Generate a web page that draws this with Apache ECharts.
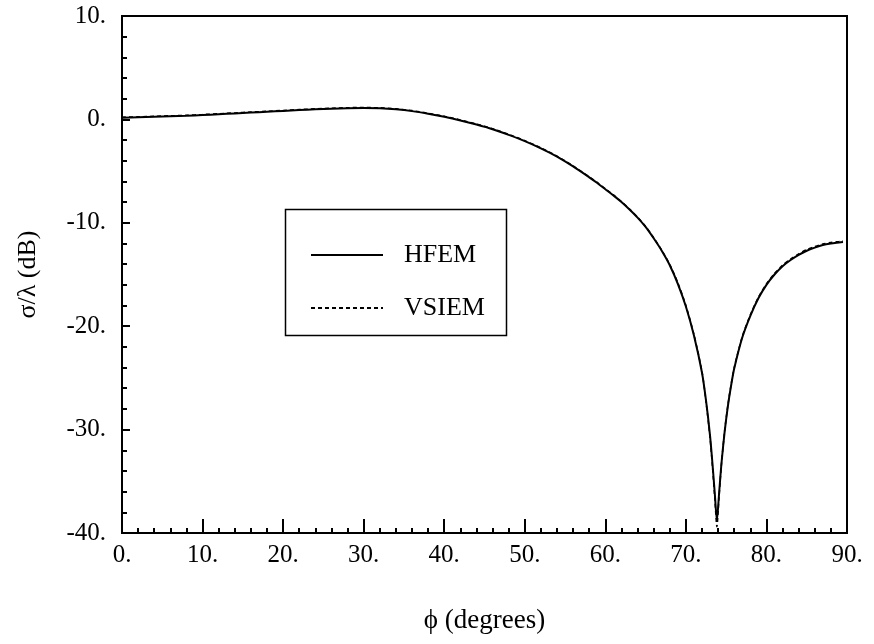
<!DOCTYPE html>
<html>
<head>
<meta charset="utf-8">
<script src="https://cdn.jsdelivr.net/npm/echarts@6/dist/echarts.min.js"></script>
<style>
html,body{margin:0;padding:0;background:#fff;}
#chart{width:874px;height:644px;}
</style>
</head>
<body>
<div id="chart"></div>
<script>
// Angle (degrees) and RCS (dB)
var phiHFEM = [0, 2, 4, 6, 8, 10, 12, 14, 16, 18, 20, 22, 24, 26, 28, 30, 32, 34, 36, 38, 40, 42, 44, 46, 48, 50, 52, 54, 56, 58, 59, 60, 61, 62, 63, 64, 65, 66, 67, 68, 69, 70, 71, 72, 72.5, 73, 73.3, 73.6, 73.85, 74.1, 74.4, 74.8, 75.2, 75.6, 76, 77, 78, 79, 80, 81, 82, 83, 84, 85, 86, 87, 88, 89, 89.5];
var dbHFEM  = [0.15, 0.2, 0.25, 0.3, 0.35, 0.42, 0.5, 0.58, 0.66, 0.74, 0.82, 0.9, 0.97, 1.03, 1.08, 1.1, 1.07, 0.97, 0.8, 0.55, 0.25, -0.1, -0.5, -0.95, -1.5, -2.1, -2.8, -3.6, -4.55, -5.6, -6.15, -6.75, -7.35, -8.0, -8.72, -9.5, -10.4, -11.5, -12.7, -14.1, -15.9, -18.1, -20.9, -24.5, -27.2, -30.6, -33.3, -36.3, -38.8, -36.4, -33.4, -30.3, -27.8, -25.8, -24.1, -21.1, -19.0, -17.3, -16.0, -15.0, -14.2, -13.6, -13.1, -12.7, -12.4, -12.15, -12.0, -11.9, -11.85];
var phiVSIEM = [0, 2, 4, 6, 8, 10, 12, 14, 16, 18, 20, 22, 24, 26, 28, 30, 32, 34, 36, 38, 40, 42, 44, 46, 48, 50, 52, 54, 56, 58, 59, 60, 61, 62, 63, 64, 65, 66, 67, 68, 69, 70, 71, 72, 72.5, 73, 73.3, 73.6, 73.85, 74.1, 74.4, 74.8, 75.2, 75.6, 76, 77, 78, 79, 80, 81, 82, 83, 84, 85, 86, 87, 88, 89, 89.5];
var dbVSIEM  = [0.22, 0.25, 0.3, 0.35, 0.4, 0.47, 0.55, 0.63, 0.71, 0.79, 0.87, 0.95, 1.02, 1.08, 1.13, 1.15, 1.12, 1.02, 0.85, 0.6, 0.3, -0.05, -0.45, -0.9, -1.45, -2.05, -2.75, -3.55, -4.5, -5.55, -6.1, -6.7, -7.3, -7.95, -8.67, -9.45, -10.35, -11.45, -12.65, -14.05, -15.8, -18.0, -20.8, -24.4, -27.3, -30.8, -33.6, -36.8, -39.4, -36.7, -33.5, -30.2, -27.7, -25.7, -24.0, -21.0, -18.9, -17.2, -15.9, -14.9, -14.1, -13.5, -13.0, -12.6, -12.3, -12.05, -11.9, -11.8, -11.75];
var xTicks = {min: 0, max: 90, interval: 10};
var yTicks = {min: -40, max: 10, interval: 10};
var seriesNames = ['HFEM', 'VSIEM'];

function pairs(xs, ys) { return xs.map(function (x, i) { return [x, ys[i]]; }); }

var FONT = 'Liberation Serif';
var chart = echarts.init(document.getElementById('chart'), null, {renderer: 'canvas'});
var fmt = function (v) { return v.toFixed(0) + '.'; };
chart.setOption({
  animation: false,
  backgroundColor: '#fff',
  grid: {left: 122, top: 16, right: 27, bottom: 111, show: true, borderColor: '#000', borderWidth: 2, backgroundColor: 'transparent'},
  legend: {
    left: 305, top: 237, orient: 'vertical',
    itemWidth: 72, itemHeight: 20, itemGap: 27,
    itemStyle: {opacity: 0},
    textStyle: {fontFamily: FONT, fontSize: 26, lineHeight: 20, color: '#000', padding: [0, 0, 0, 16]},
    data: seriesNames
  },
  graphic: [{type: 'rect', left: 283, top: 207, shape: {width: 221, height: 126}, style: {fill: 'none', stroke: '#000', lineWidth: 1.5}}],
  xAxis: {
    type: 'value', min: xTicks.min, max: xTicks.max, interval: xTicks.interval,
    name: 'ϕ (degrees)', nameLocation: 'middle', nameGap: 74,
    nameTextStyle: {fontFamily: FONT, fontSize: 27, color: '#000'},
    axisLine: {onZero: false, lineStyle: {color: '#000', width: 2}},
    axisTick: {inside: true, length: 14, lineStyle: {color: '#000', width: 2}},
    minorTick: {show: true, splitNumber: 5, length: 5, lineStyle: {color: '#000', width: 2}},
    axisLabel: {formatter: fmt, fontFamily: FONT, fontSize: 25, color: '#000', margin: 10},
    splitLine: {show: false}
  },
  yAxis: {
    type: 'value', min: yTicks.min, max: yTicks.max, interval: yTicks.interval,
    name: 'σ/λ (dB)', nameLocation: 'middle', nameGap: 81, nameRotate: 90,
    nameTextStyle: {fontFamily: FONT, fontSize: 26, color: '#000'},
    axisLine: {onZero: false, lineStyle: {color: '#000', width: 2}},
    axisTick: {inside: true, length: 8, lineStyle: {color: '#000', width: 2}},
    minorTick: {show: true, splitNumber: 5, length: 5, lineStyle: {color: '#000', width: 2}},
    axisLabel: {formatter: fmt, fontFamily: FONT, fontSize: 25, color: '#000', margin: 16},
    splitLine: {show: false}
  },
  series: [
    {name: seriesNames[0], type: 'line', data: pairs(phiHFEM, dbHFEM), smooth: 0.25, showSymbol: false, symbol: 'none',
     lineStyle: {color: '#000', width: 2}, itemStyle: {color: '#000'}},
    {name: seriesNames[1], type: 'line', data: pairs(phiVSIEM, dbVSIEM), smooth: 0.25, showSymbol: false, symbol: 'none',
     lineStyle: {color: '#000', width: 1.5, type: [4, 3]}, itemStyle: {color: '#000'}}
  ]
});
</script>
</body>
</html>
